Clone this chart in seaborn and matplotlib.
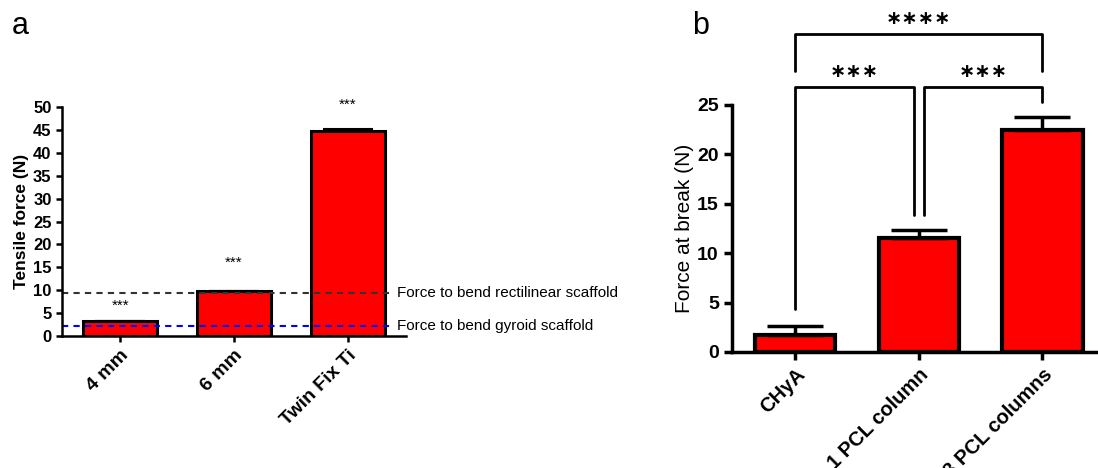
import pandas as pd
import seaborn as sns
import matplotlib.pyplot as plt

sns.set_style('ticks')
plt.rcParams['font.family'] = ['Liberation Sans', 'DejaVu Sans']
plt.rcParams.update({'text.color': 'black', 'axes.labelcolor': 'black',
                     'xtick.color': 'black', 'ytick.color': 'black',
                     'axes.edgecolor': 'black'})

# panel a
groups_a = ['4 mm', '6 mm', 'Twin Fix Ti']
force_a = [3.2, 9.8, 44.8]
err_a = [0.0, 0.0, 0.3]
stars_a = ['***', '***', '***']
star_y_a = [6.6, 15.9, 50.4]
rect_line = 9.5
gyroid_line = 2.2

# panel b
groups_b = ['CHyA', '1 PCL column', '3 PCL columns']
force_b = [1.7, 11.55, 22.5]
err_b = [0.95, 0.75, 1.3]

df_a = pd.DataFrame({'group': groups_a, 'force': force_a})
df_b = pd.DataFrame({'group': groups_b, 'force': force_b})

fig = plt.figure(figsize=(10.98, 4.68), dpi=100)
ax1 = fig.add_axes([0.0565, 0.282, 0.3133, 0.4893])
ax2 = fig.add_axes([0.6667, 0.2479, 0.3333, 0.5278])

# ---- a ----
sns.barplot(x='group', y='force', data=df_a, ax=ax1, color='#ff0000',
            edgecolor='black', linewidth=2.2, width=0.65, errorbar=None,
            saturation=1)
ax1.errorbar(range(3), force_a, yerr=[[0, 0, 0], err_a], fmt='none',
             ecolor='black', elinewidth=1.5, capsize=18, capthick=1.5)
ax1.set_xlim(-0.51, 2.51)
ax1.set_ylim(0, 50)
ax1.set_yticks(range(0, 51, 5))
ax1.axhline(rect_line, xmin=0, xmax=0.96, color='#333333', ls='--', lw=1.5, dashes=(3, 2.5))
ax1.axhline(gyroid_line, xmin=0, xmax=0.96, color='blue', ls='--', lw=1.5, dashes=(3, 2.5))
ax1.text(2.43, rect_line, 'Force to bend rectilinear scaffold', va='center',
         ha='left', fontsize=11)
ax1.text(2.43, gyroid_line, 'Force to bend gyroid scaffold', va='center',
         ha='left', fontsize=11)
for i, s in enumerate(stars_a):
    ax1.text(i, star_y_a[i], s, ha='center', va='center', fontsize=11,
             clip_on=False)
ax1.set_xlabel('')
ax1.set_ylabel('Tensile force (N)', fontsize=12.5, fontweight='bold', labelpad=3)
ax1.tick_params(axis='both', width=1.8, length=4)
plt.setp(ax1.get_yticklabels(), fontweight='bold', fontsize=12)
plt.setp(ax1.get_xticklabels(), fontweight='bold', fontsize=14, rotation=45,
         ha='right', rotation_mode='anchor')
for sp in ['left', 'bottom']:
    ax1.spines[sp].set_linewidth(1.8)
sns.despine(ax=ax1)

# ---- b ----
sns.barplot(x='group', y='force', data=df_b, ax=ax2, color='#ff0000',
            edgecolor='black', linewidth=3, width=0.65, errorbar=None,
            saturation=1)
ax2.errorbar(range(3), force_b, yerr=[[0, 0, 0], err_b], fmt='none',
             ecolor='black', elinewidth=2.5, capsize=20, capthick=2.5)
ax2.set_xlim(-0.51, 2.45)
ax2.set_ylim(0, 25)
ax2.set_yticks(range(0, 26, 5))
ax2.set_xlabel('')
ax2.set_ylabel('Force at break (N)', fontsize=15, labelpad=2)
ax2.tick_params(axis='both', width=2.5, length=6)
plt.setp(ax2.get_yticklabels(), fontweight='bold', fontsize=14)
plt.setp(ax2.get_xticklabels(), fontweight='bold', fontsize=14.5, rotation=45,
         ha='right', rotation_mode='anchor')
for sp in ['left', 'bottom']:
    ax2.spines[sp].set_linewidth(2.5)
sns.despine(ax=ax2)

# significance brackets
def bracket(ax, x0, x1, y, y0, y1, label, ty):
    ax.plot([x0, x0, x1, x1], [y0, y, y, y1], color='black', lw=2,
            clip_on=False)
    ax.text((x0 + x1) / 2, ty, label, ha='center', va='center',
            fontsize=14, fontweight='bold', family='DejaVu Sans',
            clip_on=False)

bracket(ax2, 0, 0.96, 26.8, 4.3, 13.9, '\u2217\u2217\u2217', 28.4)
bracket(ax2, 1.04, 2, 26.8, 13.9, 25.3, '\u2217\u2217\u2217', 28.4)
bracket(ax2, 0, 2, 32.2, 28.4, 28.4, '\u2217\u2217\u2217\u2217', 33.8)

fig.text(0.011, 0.945, 'a', fontsize=22, va='center')
fig.text(0.63, 0.945, 'b', fontsize=22, va='center')

fig.savefig('out.png', dpi=100)
